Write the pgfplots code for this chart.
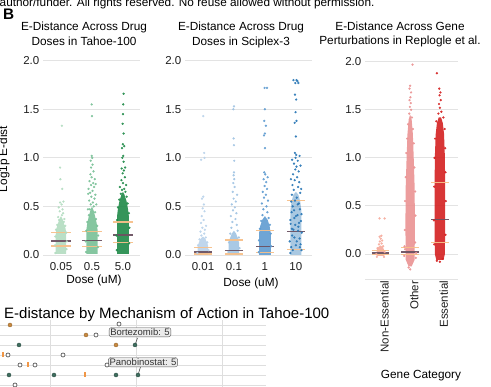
\documentclass[border=0pt]{standalone}
\usepackage{fontspec}
\setmainfont{Liberation Sans}
\usepackage{pgfplots}
\pgfplotsset{compat=1.18}
\definecolor{gA}{RGB}{178,220,192}
\definecolor{gB}{RGB}{120,192,150}
\definecolor{gC}{RGB}{31,138,72}
\definecolor{bA}{RGB}{185,210,234}
\definecolor{bB}{RGB}{160,195,226}
\definecolor{bC}{RGB}{95,155,208}
\definecolor{bD}{RGB}{40,118,181}
\definecolor{rA}{RGB}{245,170,155}
\definecolor{rB}{RGB}{234,146,146}
\definecolor{rC}{RGB}{212,32,32}
\definecolor{qcol}{RGB}{247,192,138}
\definecolor{mcol}{RGB}{108,82,98}
\definecolor{moaO}{RGB}{200,137,63}
\definecolor{moaG}{RGB}{62,110,95}
\definecolor{moaT}{RGB}{240,150,70}
\pgfplotsset{
  strip/.style={scale only axis, anchor=south west,
    axis line style={draw=none}, major tick length=0pt,
    ymajorgrids, grid style={draw=black!11, line width=0.9pt},
    ytick={0,0.5,1,1.5,2}, yticklabels={0.0,0.5,1.0,1.5,2.0},
    tick label style={font=\fontsize{11.5}{12}\selectfont, text=black!88},
    yticklabel style={anchor=east, inner sep=0pt, xshift=-3.5pt},
    xticklabel style={anchor=north, inner sep=0pt, yshift=-1.8pt},
    clip=false, unbounded coords=jump,
    /pgf/number format/assume math mode=true},
  pts/.style={only marks, mark=*, mark size=0.95pt, color=#1, opacity=0.85},
  blob/.style={fill=#1, draw=none, fill opacity=0.9},
  qline/.style={draw=qcol, line width=1.3pt, opacity=0.95},
  mline/.style={draw=mcol, line width=1.3pt, opacity=0.95},
}
\begin{document}
\begin{tikzpicture}
\useasboundingbox (0pt,0pt) rectangle (491pt,387pt);
\clip (0pt,0pt) rectangle (491pt,387pt);

\node[anchor=base west, inner sep=0pt, font=\fontsize{11.8}{12}\selectfont] at (-0.5pt,380pt) {author/funder. All rights reserved. No reuse allowed without permission.};
\node[anchor=base west, inner sep=0pt, font=\fontsize{15.3}{16}\selectfont\bfseries] at (3pt,367.7pt) {B};

% titles
\begin{scope}[every node/.style={anchor=base, inner sep=0pt, font=\fontsize{11.8}{12}\selectfont}]
\node at (84pt,356.3pt) {E-Distance Across Drug};
\node at (84pt,341.7pt) {Doses in Tahoe-100};
\node at (241pt,356.3pt) {E-Distance Across Drug};
\node at (241pt,341.7pt) {Doses in Sciplex-3};
\node at (400pt,356.8pt) {E-Distance Across Gene};
\node at (400pt,342.2pt) {Perturbations in Replogle et al.};
\node at (94pt,103.5pt) {Dose (uM)};
\node at (251pt,100.5pt) {Dose (uM)};
\node at (421pt,8.5pt) {Gene Category};
\node[rotate=90] at (7pt,228pt) {Log1p E-dist};
\end{scope}

%================ Panel 1 : Tahoe-100
\begin{axis}[strip, at={(43pt,126.2pt)}, width=97pt, height=200.1pt,
  xmin=-0.58, xmax=2.55, ymin=-0.06, ymax=2.0,
  xtick={0,1,2}, xticklabels={0.05,0.5,5.0}]
\addplot[blob=gA] coordinates {(-0.17,0.01)(0.17,0.01)(0.17,0.21)(0.15,0.27)(0.10,0.32)(0.05,0.37)(0,0.40)(-0.05,0.37)(-0.10,0.32)(-0.15,0.27)(-0.17,0.21)} -- cycle;
\addplot[pts=gA] coordinates {(-0.18,0.02)(0.18,0.06)(-0.19,0.10)(0.19,0.14)(-0.18,0.19)(0.17,0.23)(-0.16,0.26)(0.14,0.30)(-0.12,0.31)(0.09,0.34)(-0.06,0.36)(0.11,0.37)(-0.09,0.39)(0.03,0.41)(0.07,0.43)(-0.04,0.45)(0.05,0.47)(-0.07,0.49)(0.02,0.52)(-0.03,0.54)(0.08,0.55)(0.04,0.68)(-0.02,0.78)(-0.03,0.90)(0.03,1.33)};
\addplot[blob=gB] coordinates {(0.82,0.01)(1.18,0.01)(1.18,0.26)(1.15,0.33)(1.10,0.40)(1.05,0.46)(1,0.50)(0.95,0.46)(0.90,0.40)(0.85,0.33)(0.82,0.26)} -- cycle;
\addplot[pts=gB] coordinates {(0.81,0.03)(1.19,0.08)(0.80,0.14)(1.20,0.20)(0.82,0.25)(1.17,0.30)(0.85,0.34)(1.13,0.37)(0.90,0.41)(1.10,0.44)(0.93,0.47)(1.06,0.50)(0.96,0.52)(1.03,0.54)(0.91,0.56)(1.08,0.58)(0.98,0.60)(1.11,0.62)(0.94,0.64)(1.02,0.66)(0.89,0.68)(1.07,0.70)(0.97,0.72)(1.04,0.74)(0.92,0.76)(1.09,0.78)(0.99,0.80)(0.95,0.83)(1.05,0.86)(0.97,0.90)(1.02,0.93)(0.96,0.97)(1.01,1.00)(0.99,1.02)(1.00,1.43)(0.99,1.55)(1.12,0.73)(0.88,0.63)(1.14,0.52)(0.87,0.47)};
\addplot[blob=gC] coordinates {(1.81,0.01)(2.19,0.01)(2.19,0.40)(2.16,0.48)(2.11,0.56)(2.05,0.62)(2,0.65)(1.95,0.62)(1.89,0.56)(1.84,0.48)(1.81,0.40)} -- cycle;
\addplot[pts=gC] coordinates {(1.80,0.05)(2.20,0.12)(1.79,0.20)(2.21,0.28)(1.81,0.36)(2.19,0.43)(1.84,0.49)(2.15,0.53)(1.88,0.57)(2.12,0.60)(1.93,0.63)(2.08,0.65)(1.97,0.67)(2.04,0.68)(1.90,0.70)(2.10,0.72)(2.00,0.74)(1.95,0.77)(2.06,0.80)(1.99,0.84)(2.03,0.87)(1.96,0.89)(2.07,0.90)(2.02,0.96)(1.98,1.00)(2.01,1.02)(1.97,1.10)(2.04,1.12)(2.00,1.14)(2.02,1.25)(1.99,1.35)(2.00,1.45)(2.01,1.55)(2.02,1.66)};
\addplot[qline] coordinates {(-0.32,0.093)(0.32,0.093)(nan,nan)(-0.32,0.23)(0.32,0.23)(nan,nan)(0.68,0.086)(1.32,0.086)(nan,nan)(0.68,0.24)(1.32,0.24)(nan,nan)(1.68,0.128)(2.32,0.128)(nan,nan)(1.68,0.338)(2.32,0.338)};
\addplot[mline] coordinates {(-0.32,0.145)(0.32,0.145)(nan,nan)(0.68,0.148)(1.32,0.148)(nan,nan)(1.68,0.207)(2.32,0.207)};
\end{axis}

%================ Panel 2 : Sciplex-3
\begin{axis}[strip, at={(185pt,126.2pt)}, width=127pt, height=200.1pt,
  xmin=-0.58, xmax=3.52, ymin=-0.06, ymax=2.0,
  xtick={0,1,2,3}, xticklabels={0.01,0.1,1,10}]
\addplot[blob=bA] coordinates {(-0.17,0.0)(0.17,0.0)(0.17,0.09)(0.13,0.13)(0.07,0.17)(0,0.19)(-0.07,0.17)(-0.13,0.13)(-0.17,0.09)} -- cycle;
\addplot[pts=bA] coordinates {(-0.18,0.02)(0.18,0.05)(-0.16,0.10)(0.14,0.13)(-0.11,0.16)(0.09,0.18)(-0.05,0.20)(0.04,0.22)(-0.08,0.24)(0.06,0.26)(-0.02,0.28)(0.10,0.30)(-0.06,0.33)(0.02,0.36)(-0.04,0.40)(0.05,0.45)(-0.01,0.48)(0.03,0.52)(-0.03,0.58)(0.01,0.60)(-0.06,0.98)(0.05,1.00)(0.04,1.05)(0.01,1.43)};
\addplot[blob=bB] coordinates {(0.83,0.0)(1.17,0.0)(1.17,0.12)(1.13,0.17)(1.07,0.22)(1,0.25)(0.93,0.22)(0.87,0.17)(0.83,0.12)} -- cycle;
\addplot[pts=bB] coordinates {(0.82,0.03)(1.18,0.07)(0.84,0.13)(1.16,0.18)(0.88,0.22)(1.12,0.25)(0.92,0.28)(1.09,0.31)(0.95,0.34)(1.05,0.37)(0.90,0.40)(1.08,0.43)(0.97,0.46)(1.03,0.49)(0.93,0.52)(1.06,0.55)(0.99,0.58)(1.10,0.62)(0.96,0.65)(1.02,0.70)(0.98,0.74)(1.01,0.78)(0.99,0.82)(1.00,0.85)(1.01,0.97)(1.00,1.13)(0.99,1.20)(0.98,1.50)(1.00,1.53)};
\addplot[blob=bC] coordinates {(1.81,0.0)(2.19,0.0)(2.19,0.22)(2.15,0.30)(2.09,0.36)(2,0.40)(1.91,0.36)(1.85,0.30)(1.81,0.22)} -- cycle;
\addplot[pts=bC] coordinates {(1.80,0.03)(2.20,0.09)(1.81,0.15)(2.19,0.22)(1.84,0.27)(2.16,0.31)(1.88,0.35)(2.12,0.38)(1.92,0.41)(2.08,0.44)(1.95,0.47)(2.05,0.50)(1.90,0.53)(2.10,0.56)(1.97,0.59)(2.03,0.62)(1.93,0.65)(2.07,0.68)(1.99,0.71)(2.04,0.75)(1.96,0.78)(2.09,0.80)(2.01,0.83)(1.98,0.85)(2.00,1.10)(1.97,1.23)(2.00,1.25)(2.03,1.33)(1.98,1.38)(2.00,1.50)(1.99,1.72)(2.07,1.72)};
\addplot[fill=bD, draw=none, fill opacity=0.4] coordinates {(2.82,0.0)(3.18,0.0)(3.18,0.45)(3.14,0.55)(3.08,0.62)(3,0.65)(2.92,0.62)(2.86,0.55)(2.82,0.45)} -- cycle;
\addplot[pts=bD] coordinates {(2.82,0.02)(3.18,0.05)(2.85,0.08)(3.15,0.11)(2.80,0.14)(3.12,0.17)(2.88,0.20)(3.19,0.23)(2.92,0.26)(3.08,0.29)(2.83,0.32)(3.16,0.35)(2.95,0.38)(3.05,0.41)(2.86,0.44)(3.13,0.47)(2.90,0.50)(3.10,0.53)(2.97,0.56)(3.03,0.59)(2.87,0.62)(3.14,0.64)(2.93,0.67)(3.07,0.70)(2.89,0.72)(3.11,0.75)(2.96,0.77)(3.04,0.80)(2.91,0.83)(3.09,0.86)(2.98,0.88)(3.02,0.91)(2.94,0.94)(3.06,0.97)(2.99,1.00)(3.01,1.03)(2.97,1.05)(3.00,1.22)(2.96,1.36)(3.02,1.38)(2.99,1.47)(3.01,1.60)(2.97,1.65)(2.98,1.77)(3.02,1.80)(3.05,1.79)(3.08,1.77)(2.92,1.80)(3.17,0.68)(2.84,0.78)(3.15,0.92)(2.88,0.98)(3.12,1.02)(2.85,0.55)(3.18,0.42)(2.82,0.36)(3.00,0.10)(2.95,0.18)(3.07,0.25)(2.98,0.31)(3.03,0.14)(2.90,0.05)(3.10,0.33)(2.94,0.46)(3.06,0.52)(3.00,0.40)(2.87,0.27)(3.13,0.08)};
\addplot[qline] coordinates {(-0.29,0.01)(0.29,0.01)(nan,nan)(-0.29,0.079)(0.29,0.079)(nan,nan)(0.71,0.01)(1.29,0.01)(nan,nan)(0.71,0.155)(1.29,0.155)(nan,nan)(1.71,0.028)(2.29,0.028)(nan,nan)(1.71,0.25)(2.29,0.25)(nan,nan)(2.71,0.059)(3.29,0.059)(nan,nan)(2.71,0.56)(3.29,0.56)};
\addplot[mline] coordinates {(-0.29,0.03)(0.29,0.03)(nan,nan)(0.71,0.045)(1.29,0.045)(nan,nan)(1.71,0.086)(2.29,0.086)(nan,nan)(2.71,0.245)(3.29,0.245)};
\end{axis}

%================ Panel 3 : Replogle
\begin{axis}[strip, at={(365pt,108pt)}, width=93pt, height=217.3pt,
  xmin=-0.52, xmax=2.61, ymin=-0.26, ymax=2.0,
  ytick={-0.26,0,0.5,1,1.5,2}, yticklabels={,0.0,0.5,1.0,1.5,2.0},
  xtick={0,1,2}, xticklabels={Non-Essential,Other,Essential},
  xticklabel style={rotate=90, anchor=east, inner sep=0pt, yshift=-4pt}]
\addplot[blob=rA] coordinates {(-0.13,-0.02)(0.13,-0.02)(0.13,0.04)(0.08,0.07)(0,0.09)(-0.08,0.07)(-0.13,0.04)} -- cycle;
\addplot[pts=rA] coordinates {(-0.14,0.0)(0.14,0.02)(-0.10,0.06)(0.09,0.08)(-0.05,0.10)(0.04,0.11)(-0.02,0.13)(0.06,0.14)(0.01,0.16)(-0.03,0.18)(0.03,0.19)(-0.03,0.37)(0.14,0.37)(0.12,-0.03)(-0.12,-0.03)};
\addplot[blob=rB] coordinates {(0.95,-0.13)(1.05,-0.13)(1.15,-0.06)(1.16,0.3)(1.15,0.7)(1.12,1.0)(1.09,1.25)(1.05,1.40)(1.0,1.45)(0.95,1.40)(0.91,1.25)(0.88,1.0)(0.85,0.7)(0.84,0.3)(0.85,-0.06)} -- cycle;
\addplot[pts=rB] coordinates {(0.83,0.05)(1.17,0.12)(0.82,0.25)(1.18,0.40)(0.83,0.55)(1.17,0.65)(0.85,0.80)(1.14,0.90)(0.87,1.05)(1.12,1.15)(0.90,1.20)(1.09,1.30)(0.93,1.35)(1.06,1.42)(0.97,1.46)(1.03,1.50)(0.99,1.53)(1.02,1.57)(0.98,1.60)(1.01,1.63)(1.03,1.68)(0.98,1.72)(1.00,1.75)(1.08,1.97)(0.95,-0.14)(1.0,-0.16)(0.80,-0.02)(1.20,0.01)(0.81,0.08)(1.19,-0.04)};
\addplot[blob=rC] coordinates {(1.88,-0.06)(2.12,-0.06)(2.17,0.0)(2.18,0.5)(2.17,1.0)(2.14,1.25)(2.10,1.36)(2.04,1.42)(1.96,1.42)(1.90,1.36)(1.86,1.25)(1.83,1.0)(1.82,0.5)(1.83,0.0)} -- cycle;
\addplot[pts=rC] coordinates {(1.81,0.1)(2.19,0.2)(1.80,0.35)(2.20,0.55)(1.81,0.7)(2.19,0.85)(1.82,1.0)(2.18,1.1)(1.84,1.2)(2.16,1.3)(1.88,1.38)(2.12,1.42)(1.95,1.46)(2.05,1.48)(2.00,1.52)(1.97,1.56)(2.03,1.60)(1.99,1.65)(2.02,1.68)(1.98,1.72)(1.90,1.88)(1.90,-0.07)(2.10,-0.05)(2.0,-0.08)};
\addplot[qline] coordinates {(-0.3,-0.005)(0.3,-0.005)(nan,nan)(-0.3,0.038)(0.3,0.038)(nan,nan)(0.7,-0.003)(1.3,-0.003)(nan,nan)(0.7,0.066)(1.3,0.066)(nan,nan)(1.7,0.122)(2.3,0.122)(nan,nan)(1.7,0.745)(2.3,0.745)};
\addplot[mline] coordinates {(-0.3,0.01)(0.3,0.01)(nan,nan)(0.7,0.021)(1.3,0.021)(nan,nan)(1.7,0.36)(2.3,0.36)};
\end{axis}

%================ Bottom panel : MoA
\node[anchor=base west, inner sep=0pt, font=\fontsize{15}{16}\selectfont] at (4pt,68pt) {E-distance by Mechanism of Action in Tahoe-100};
\begin{axis}[scale only axis, anchor=south west, at={(0pt,0pt)}, width=266pt, height=67pt,
  xmin=0, xmax=266, ymin=-6.2, ymax=0.5,
  axis line style={draw=none}, major tick length=0pt,
  xtick={50,136,222}, xticklabels={}, ytick={0,-1,-2,-3,-4,-5,-6}, yticklabels={},
  xmajorgrids, ymajorgrids, grid style={draw=black!13, line width=0.8pt}, clip=false]
\addplot[only marks, mark=*, mark size=2pt, color=moaO, mark options={draw=moaO!75!black, line width=0.4pt}] coordinates {(10,0)(86,-1)(116,-2)};
\addplot[only marks, mark=*, mark size=2pt, color=moaG, mark options={draw=moaG!70!black, line width=0.4pt}] coordinates {(19,-2)(135,-2)(9,-5)(54,-5)(116,-5)(138,-5)};
\addplot[only marks, mark=*, mark size=2pt, mark options={fill=white, draw=black!65, line width=0.7pt}] coordinates {(96,-1)(119,0.1)(8,-3)(63,-3)(20,-4)(35,-4)(107,-4)(15,-6)};
\addplot[only marks, mark=|, mark size=2.5pt, color=moaT, line width=1.3pt] coordinates {(3,-3)(28,-4)(85,-5)};
\draw[black!70, line width=0.6pt] (axis cs:137.5,-1.3) -- (axis cs:135,-2);
\draw[black!70, line width=0.6pt] (axis cs:140.5,-4.2) -- (axis cs:138,-5);
\node[draw=black!65, fill=black!8, rounded corners=2.5pt, inner sep=1.2pt, font=\fontsize{9.5}{10}\selectfont, text=black!80] at (axis cs:140,-0.72) {Bortezomib: 5};
\node[draw=black!65, fill=black!8, rounded corners=2.5pt, inner sep=1.2pt, font=\fontsize{9.5}{10}\selectfont, text=black!80] at (axis cs:143,-3.72) {Panobinostat: 5};
\end{axis}
\end{tikzpicture}
\end{document}
